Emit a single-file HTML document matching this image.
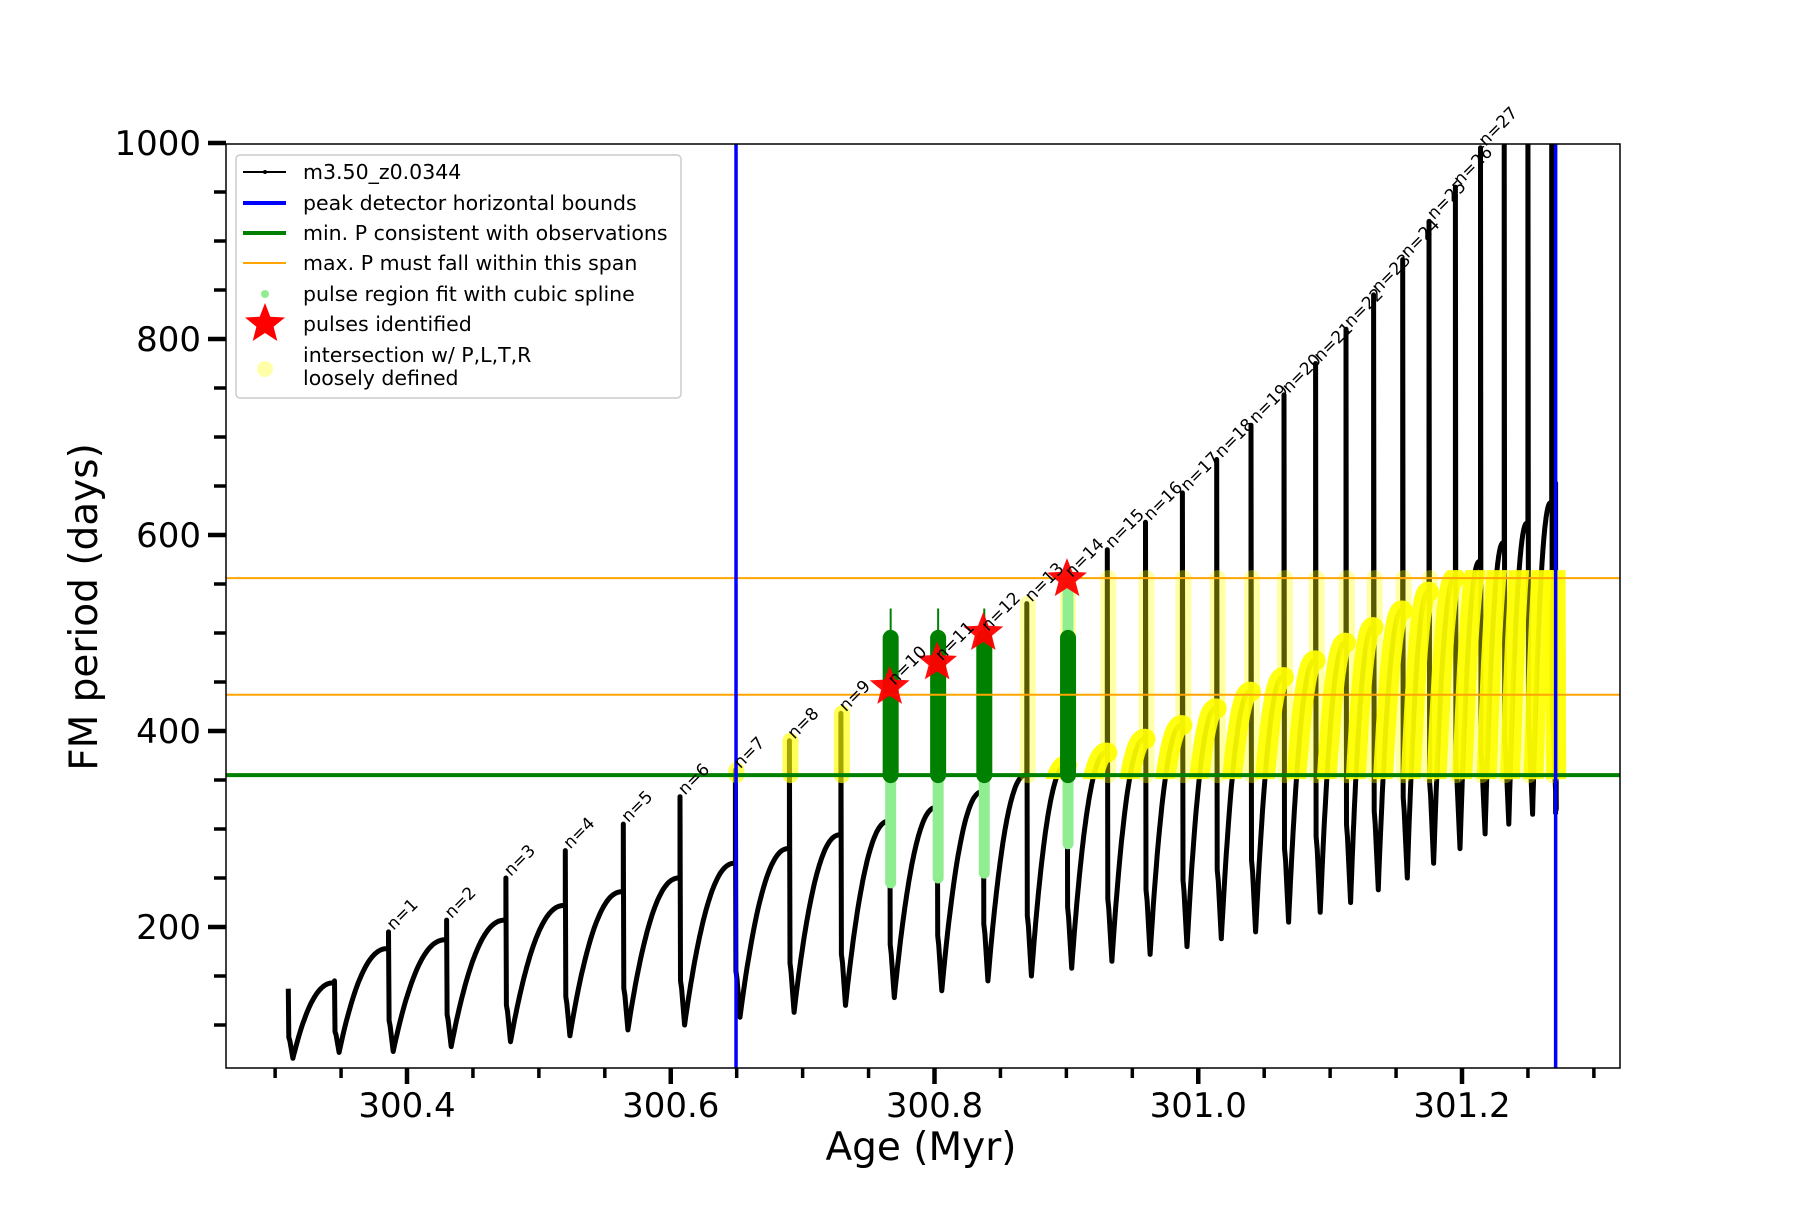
<!DOCTYPE html>
<html><head><meta charset="utf-8"><style>
html,body{margin:0;padding:0;background:#fff}
svg text{font-family:"DejaVu Sans","Liberation Sans",sans-serif}
</style></head><body>
<svg id="chart" xmlns="http://www.w3.org/2000/svg" width="1800" height="1200" viewBox="0 0 1800 1200">
<rect x="0" y="0" width="1800" height="1200" fill="#fff"/>
<defs><clipPath id="plotclip"><rect x="226" y="144" width="1394" height="924"/></clipPath></defs>
<g id="plot" clip-path="url(#plotclip)"></g>
<g id="axes"></g>
<g id="legend"></g>
</svg>
<script>
// ---- data ----
const pulseAge = [300.310,300.345,300.386,300.430,300.475,300.520,300.564,300.607,300.649,300.690,300.729,300.766,300.802,300.837,300.870,300.9005,300.931,300.960,300.988,301.014,301.040,301.065,301.089,301.112,301.133,301.155,301.175,301.195,301.214,301.232,301.250,301.268];
const spikePeak = [137,145,195,207,250,278,305,333,360,390,418,445,470,500,530,555,585,613,643,677,712,743,775,810,845,881,920,955,995,1040,1080,1120];
const cycleMin = [66,72,73,78,83,89,95,100,108,113,120,128,135,145,150,158,165,172,180,188,195,205,215,225,238,250,265,280,295,305,315,320];
const cycleMax = [143,178,187,207,222,236,250,265,280,294,308,322,338,355,365,378,392,406,423,440,455,472,490,506,523,542,556,573,592,612,633,653];
const endAge = 301.271;
const endDrop = 315;
const boundsAge = [300.6495, 301.271];
const minP = 355;
const maxPSpan = [437, 556];
const greenPulseIdx = [11,12,13,15];
const greenLow = [245,250,255,285];
const starIdx = [11,12,13,15];
const xTicksMajor = [300.4,300.6,300.8,301.0,301.2];
const xTickLabels = ["300.4","300.6","300.8","301.0","301.2"];
const yTicksMajor = [200,400,600,800,1000];
const yTickLabels = ["200","400","600","800","1000"];

// ---- axis functions ----
const X = v => 407 + (v - 300.4) * 1318.75;
const Y = v => 731 + (400 - v) * 0.98;
const NS = "http://www.w3.org/2000/svg";
function mk(tag, attrs, parent){ const e=document.createElementNS(NS,tag); for(const k in attrs) e.setAttribute(k,attrs[k]); parent.appendChild(e); return e; }
const plot=document.getElementById('plot'), axes=document.getElementById('axes'), legend=document.getElementById('legend');

function cyclePoints(k){
  const pts=[];
  const t=pulseAge[k], tn = k+1<pulseAge.length ? pulseAge[k+1] : endAge;
  const prev = k===0 ? spikePeak[0] : cycleMax[k-1];
  const mn=cycleMin[k], mx=cycleMax[k];
  pts.push([t, k===0?spikePeak[0]:prev]);
  pts.push([t, spikePeak[k]]);
  pts.push([t+0.0004, mn+(prev-mn)*0.3]);
  pts.push([t+0.0012, mn+(prev-mn)*0.25]);
  const t0=t+0.0035;
  pts.push([t0, mn]);
  const N=40;
  for(let i=1;i<=N;i++){ const s=i/N; pts.push([t0+(tn-0.0008-t0)*s, mn+(mx-mn)*(1-Math.pow(1-s,2.2))]); }
  pts.push([tn, mx]);
  return pts;
}
let all=[];
for(let k=0;k<pulseAge.length;k++){ all=all.concat(cyclePoints(k)); }
all.push([endAge, endDrop]);
const d = all.map((p,i)=>(i?'L':'M')+X(p[0]).toFixed(1)+' '+Y(p[1]).toFixed(1)).join(' ');
const curve = mk('path',{d:d,fill:'none',stroke:'#000','stroke-width':5,'stroke-linejoin':'round'},plot);



for(let k=8;k<pulseAge.length;k++){
  const top=Math.min(spikePeak[k],maxPSpan[1]);
  const b=mk('line',{x1:X(pulseAge[k])+1,x2:X(pulseAge[k])+1,y1:Y(minP),y2:Y(top),stroke:'#ffff00','stroke-width':16,'stroke-linecap':'round',opacity:k<11?0.65:0.35},plot);
  
  
}
const yclip=mk('clipPath',{id:'yclip'},document.querySelector('defs'));
mk('rect',{x:226,y:Y(maxPSpan[1])-8,width:1394,height:Y(minP)-Y(maxPSpan[1])+12},yclip);
const yg=mk('g',{'clip-path':'url(#yclip)'},plot);
for(let k=14;k<pulseAge.length;k++){
  const pts=cyclePoints(k).slice(4);
  const dd=pts.map((p,i)=>(i?'L':'M')+X(p[0]).toFixed(1)+' '+Y(p[1]).toFixed(1)).join(' ');
  const yp=mk('path',{d:dd,fill:'none',stroke:'#ffff00','stroke-width':20,'stroke-linecap':'round','stroke-linejoin':'round',opacity:0.93},yg);
  
  
}
greenPulseIdx.forEach((k,i)=>{
  const x=X(pulseAge[k])+1;
  const lg=mk('line',{x1:x,x2:x,y1:Y(greenLow[i]),y2:Y(minP),stroke:'#90ee90','stroke-width':11,'stroke-linecap':'round'},plot);
  
  
  if(k!==15){
    const tl=mk('line',{x1:x,x2:x,y1:Y(minP),y2:Y(525),stroke:'#008000','stroke-width':2},plot);
    
    
  } else {
    const l2=mk('line',{x1:x,x2:x,y1:Y(495),y2:Y(550),stroke:'#90ee90','stroke-width':11,'stroke-linecap':'round'},plot);
    
    
  }
  const dg=mk('line',{x1:x,x2:x,y1:Y(minP),y2:Y(495),stroke:'#008000','stroke-width':16,'stroke-linecap':'round'},plot);
  
  
});
function hline(v,col,w,name){ const l=mk('line',{x1:226,x2:1620,y1:Y(v),y2:Y(v),stroke:col,'stroke-width':w},plot);   }
hline(maxPSpan[0],'#ffa500',2,'max-p-lower-line');
hline(maxPSpan[1],'#ffa500',2,'max-p-upper-line');
hline(minP,'#008000',4,'min-p-line');
boundsAge.forEach(a=>{ const l=mk('line',{x1:X(a),x2:X(a),y1:144,y2:1068,stroke:'#0000ff','stroke-width':3.5},plot);   });

function starPts(cx,cy,R,r){ const p=[]; for(let i=0;i<10;i++){ const a=-Math.PI/2+i*Math.PI/5; const rr=i%2?r:R; p.push((cx+rr*Math.cos(a)).toFixed(1)+','+(cy+rr*Math.sin(a)).toFixed(1)); } return p.join(' '); }
starIdx.forEach(k=>{
  const s=mk('polygon',{points:starPts(X(pulseAge[k]),Y(spikePeak[k]),21,9),fill:'#ff0000',opacity:0.95},plot);
  
  
});
for(let k=2;k<=28;k++){
  const x=X(pulseAge[k])+5, y=Y(spikePeak[k])-1;
  const t=mk('text',{x:0,y:0,'font-size':17,fill:'#000',transform:`translate(${x.toFixed(1)},${y.toFixed(1)}) rotate(-45)`},axes);
  t.textContent='n='+(k-1);
  
  
}

const fr=mk('rect',{x:226,y:144,width:1394,height:924,fill:'none',stroke:'#000','stroke-width':1.5},axes);


for(let v=300.3; v<=301.3001; v+=0.05){
  const vv=Math.round(v*100)/100; const maj=xTicksMajor.some(m=>Math.abs(m-vv)<1e-6);
  const tk=mk('line',{x1:X(vv),x2:X(vv),y1:1068,y2:maj?1084:1078,stroke:'#000','stroke-width':maj?4.5:3.5},axes);
  
  
}
xTicksMajor.forEach((v,i)=>{ const t=mk('text',{x:X(v),y:1117,'font-size':34,'text-anchor':'middle'},axes); t.textContent=xTickLabels[i];   });
for(let v=100; v<=1000; v+=50){
  const maj=yTicksMajor.includes(v);
  const tk=mk('line',{x1:maj?208:214,x2:226,y1:Y(v),y2:Y(v),stroke:'#000','stroke-width':maj?4.5:3.5},axes);
  
  
}
yTicksMajor.forEach((v,i)=>{ const t=mk('text',{x:201,y:Y(v)+12,'font-size':34,'text-anchor':'end'},axes); t.textContent=yTickLabels[i];   });
const xl=mk('text',{x:921,y:1160,'font-size':39,'text-anchor':'middle'},axes); xl.textContent='Age (Myr)';
 
const yl=mk('text',{x:0,y:0,'font-size':39,'text-anchor':'middle',transform:'translate(97,607) rotate(-90)'},axes); yl.textContent='FM period (days)';
 

const lb=mk('rect',{x:236,y:155,width:445,height:243,rx:4,fill:'#fff','fill-opacity':0.85,stroke:'#cccccc','stroke-width':1.5},legend);
 
const labels=['m3.50_z0.0344','peak detector horizontal bounds','min. P consistent with observations','max. P must fall within this span','pulse region fit with cubic spline','pulses identified'];
const ys=[172,203,233,263,294,324];
labels.forEach((s,i)=>{ const t=mk('text',{x:303,y:ys[i]+7,'font-size':20.5},legend); t.textContent=s;   });
const t1=mk('text',{x:303,y:362,'font-size':20.5},legend); t1.textContent='intersection w/ P,L,T,R';
 
const t2=mk('text',{x:303,y:385,'font-size':20.5},legend); t2.textContent='loosely defined';
 
function lh(y,col,w,name){ const l=mk('line',{x1:243,x2:286,y1:y,y2:y,stroke:col,'stroke-width':w},legend);   }
lh(ys[0],'#000',2,'legend-model-handle');
const dot=mk('circle',{cx:265,cy:ys[0],r:2,fill:'#000'},legend);  
lh(ys[1],'#0000ff',4,'legend-bounds-handle');
lh(ys[2],'#008000',4,'legend-minp-handle');
lh(ys[3],'#ffa500',2,'legend-maxp-handle');
const gd=mk('circle',{cx:265,cy:ys[4],r:4,fill:'#90ee90'},legend);  
const st=mk('polygon',{points:starPts(265,ys[5],21,9),fill:'#ff0000'},legend);  
const yc=mk('circle',{cx:265,cy:369,r:8,fill:'#ffffaa'},legend);  
</script>
</body></html>
